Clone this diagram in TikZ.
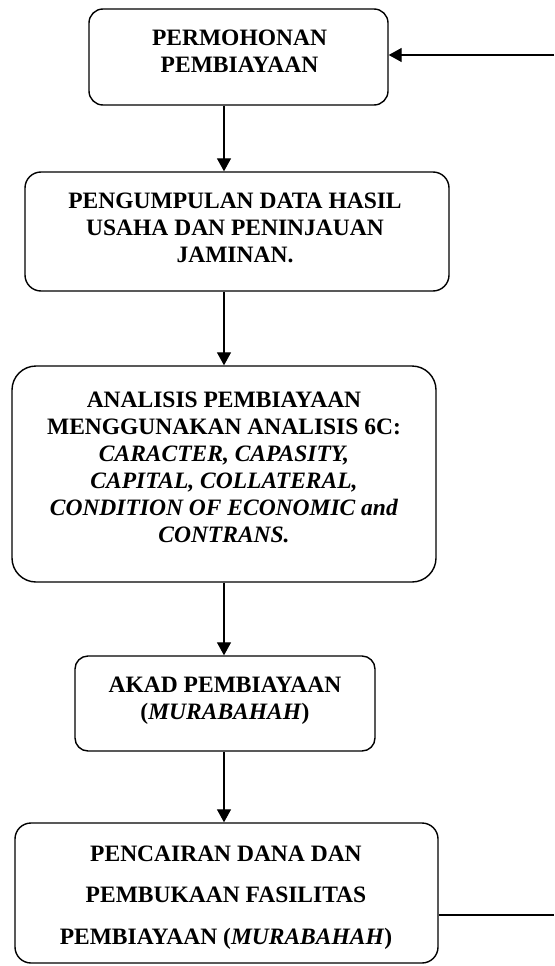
\documentclass[tikz,border=0pt]{standalone}
\usepackage{fontspec}
\setmainfont{Liberation Serif}
\usetikzlibrary{arrows.meta}
\begin{document}
\begin{tikzpicture}[x=1pt,y=-1pt,
  box/.style={draw, line width=1.4pt, rounded corners=#1, inner sep=0pt},
  box/.default=14pt,
  txt/.style={anchor=north, align=center, inner sep=0pt,
    font=\bfseries\fontsize{23.5}{27}\selectfont},
  txtwide/.style={txt, font=\bfseries\fontsize{23.5}{41.5}\selectfont},
  arr/.style={line width=1.3pt, -{Triangle[length=13pt,width=14pt]}},
  conn/.style={line width=1.3pt}]
\useasboundingbox (0,0) rectangle (554,966);
% boxes
\node[box=14pt, minimum width=299pt, minimum height=96pt] (b1) at (238.5,57) {};
\node[box=16pt, minimum width=424pt, minimum height=119pt] (b2) at (237,231.5) {};
\node[box=24pt, minimum width=424pt, minimum height=216pt] (b3) at (224,474) {};
\node[box=13pt, minimum width=300pt, minimum height=95pt] (b4) at (225,703.5) {};
\node[box=16pt, minimum width=423pt, minimum height=140pt] (b5) at (226.5,893) {};
% texts
\node[txt] (t1) at (239.5,29.5) {PERMOHONAN\\PEMBIAYAAN};
\node[txt] (t2) at (235,192.5) {PENGUMPULAN DATA HASIL\\USAHA DAN PENINJAUAN\\JAMINAN.};
\node[txt] (t3) at (224,391.5) {ANALISIS PEMBIAYAAN\\MENGGUNAKAN ANALISIS 6C:\\\textit{CARACTER, CAPASITY,}\\\textit{CAPITAL, COLLATERAL,}\\\textit{CONDITION OF ECONOMIC and}\\\textit{CONTRANS.}};
\node[txt] (t4) at (225,676.5) {AKAD PEMBIAYAAN\\(\textit{MURABAHAH})};
\node[txtwide] (t5) at (226,845.5) {PENCAIRAN DANA DAN\\PEMBUKAAN FASILITAS\\PEMBIAYAAN (\textit{MURABAHAH})};
% connectors
\draw[arr] (b1.south -| b3.north) -- (b2.north -| b3.north);
\draw[arr] (b2.south -| b3.north) -- (b3.north);
\draw[arr] (b3.south) -- (b4.north -| b3.south);
\draw[arr] (b4.south -| b3.south) -- (b5.north -| b3.south);
\coordinate (fbb) at (554,915);
\coordinate (fbt) at (554,55);
\draw[conn] (fbb -| b5.east) -- (fbb);
\draw[arr] (fbt) -- (fbt -| b1.east);
\end{tikzpicture}
\end{document}
